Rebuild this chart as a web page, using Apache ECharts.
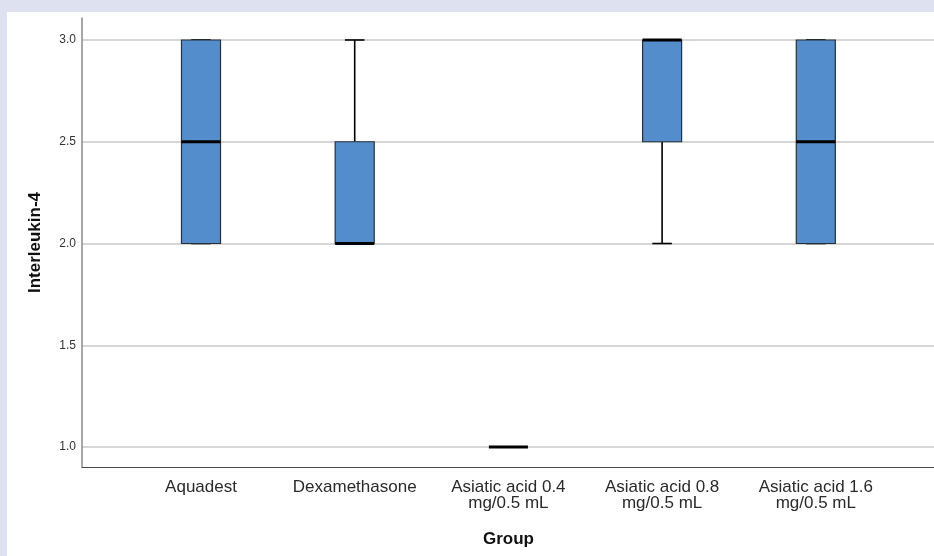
<!DOCTYPE html>
<html>
<head>
<meta charset="utf-8">
<script src="https://cdn.jsdelivr.net/npm/echarts@6/dist/echarts.min.js"></script>
<style>
  html, body { margin: 0; padding: 0; width: 934px; height: 556px; background: #dee2f0; overflow: hidden; }
  #panel { position: absolute; left: 7px; top: 12px; width: 927px; height: 544px; background: #ffffff; }
  #chart { position: absolute; left: 0; top: 0; width: 934px; height: 556px; }
</style>
</head>
<body>
<div id="panel"></div>
<div id="chart"></div>
<script>
const categories = ['Aquadest', 'Dexamethasone', 'Asiatic acid 0.4\nmg/0.5 mL', 'Asiatic acid 0.8\nmg/0.5 mL', 'Asiatic acid 1.6\nmg/0.5 mL'];
const mins    = [2.0, 2.0, 1.0, 2.0, 2.0];
const q1s     = [2.0, 2.0, 1.0, 2.5, 2.0];
const medians = [2.5, 2.0, 1.0, 3.0, 2.5];
const q3s     = [3.0, 2.5, 1.0, 3.0, 3.0];
const maxs    = [3.0, 3.0, 1.0, 3.0, 3.0];
const yTicks  = [1.0, 1.5, 2.0, 2.5, 3.0];
const yName = 'Interleukin-4';
const xName = 'Group';

const boxData = categories.map((c, i) => [i, mins[i], q1s[i], medians[i], q3s[i], maxs[i]]);

const Y_MIN = 0.902, Y_MAX = 3.108;
const FONT = '"Liberation Sans", Arial, sans-serif';

const chart = echarts.init(document.getElementById('chart'), null, { renderer: 'canvas' });

function renderBox(params, api) {
  const i = api.value(0);
  const vMin = api.value(1), vQ1 = api.value(2), vMed = api.value(3), vQ3 = api.value(4), vMax = api.value(5);
  const cx = api.coord([i, vMed])[0];
  const yMin = api.coord([i, vMin])[1];
  const yQ1 = api.coord([i, vQ1])[1];
  const yMed = api.coord([i, vMed])[1];
  const yQ3 = api.coord([i, vQ3])[1];
  const yMax = api.coord([i, vMax])[1];
  const bw = api.size([1, 0])[0] * 0.254;
  const hw = bw / 2;
  const cw = bw / 4;
  const children = [];
  const whiskerStyle = { stroke: '#000', lineWidth: 1.6 };
  if (vMax > vQ3) {
    children.push({ type: 'line', shape: { x1: cx, y1: yQ3, x2: cx, y2: yMax }, style: whiskerStyle });
  }
  if (vMin < vQ1) {
    children.push({ type: 'line', shape: { x1: cx, y1: yQ1, x2: cx, y2: yMin }, style: whiskerStyle });
  }
  if (vMax > vMin) {
    children.push({ type: 'line', shape: { x1: cx - cw, y1: yMax, x2: cx + cw, y2: yMax }, style: whiskerStyle });
    children.push({ type: 'line', shape: { x1: cx - cw, y1: yMin, x2: cx + cw, y2: yMin }, style: whiskerStyle });
  }
  if (vQ3 > vQ1) {
    children.push({ type: 'rect', shape: { x: cx - hw, y: yQ3, width: bw, height: yQ1 - yQ3 },
      style: { fill: '#548dcc', stroke: '#26313d', lineWidth: 1.2 } });
  }
  children.push({ type: 'line', shape: { x1: cx - hw, y1: yMed, x2: cx + hw, y2: yMed },
    style: { stroke: '#000', lineWidth: 3 } });
  return { type: 'group', children };
}

chart.setOption({
  animation: false,
  backgroundColor: 'transparent',
  grid: [
    { left: 82, right: 0, top: 18, bottom: 89 },
    { left: 124.15, right: 41.35, top: 18, bottom: 89 }
  ],
  xAxis: [
    { gridIndex: 0, type: 'value', min: 0, max: 1,
      axisLine: { show: true, lineStyle: { color: '#4a4a4a', width: 1.2 } },
      axisTick: { show: false }, axisLabel: { show: false }, splitLine: { show: false } },
    { gridIndex: 1, type: 'category', data: categories, boundaryGap: true,
      axisLine: { show: false }, axisTick: { show: false }, splitLine: { show: false },
      axisLabel: { fontFamily: FONT, fontSize: 17, color: '#2a2a2a', lineHeight: 16, margin: 12, interval: 0 },
      name: xName, nameLocation: 'middle', nameGap: 64,
      nameTextStyle: { fontFamily: FONT, fontSize: 17, fontWeight: 'bold', color: '#111' } }
  ],
  yAxis: [
    { gridIndex: 0, type: 'value', min: Y_MIN, max: Y_MAX,
      axisLine: { show: true, lineStyle: { color: '#8a8a8a', width: 1.5 } },
      axisTick: { show: false, customValues: yTicks },
      axisLabel: { customValues: yTicks, formatter: v => v.toFixed(1), fontFamily: FONT, fontSize: 12, color: '#333', margin: 6 },
      splitLine: { show: true, lineStyle: { color: '#c8c8c8', width: 1.5 } },
      name: yName, nameLocation: 'middle', nameGap: 38, nameRotate: 90,
      nameTextStyle: { fontFamily: FONT, fontSize: 17, fontWeight: 'bold', color: '#111' } },
    { gridIndex: 1, type: 'value', min: Y_MIN, max: Y_MAX, show: false,
      axisLine: { show: false }, axisTick: { show: false }, axisLabel: { show: false }, splitLine: { show: false } }
  ],
  series: [
    { type: 'custom', xAxisIndex: 1, yAxisIndex: 1, data: boxData,
      encode: { x: 0, y: [1, 2, 3, 4, 5] }, renderItem: renderBox, clip: false }
  ]
});
</script>
</body>
</html>
